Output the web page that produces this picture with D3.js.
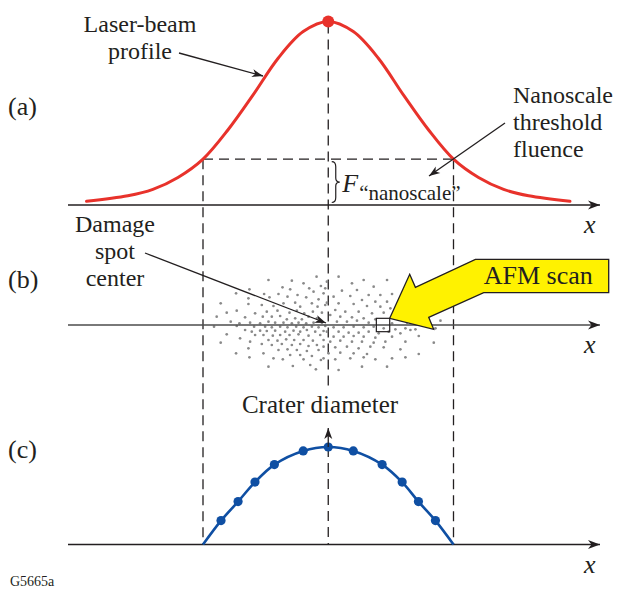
<!DOCTYPE html>
<html>
<head>
<meta charset="utf-8">
<script src="https://cdn.jsdelivr.net/npm/d3@7"></script>
<style>
  html, body { margin: 0; padding: 0; background: #fff; }
  svg { display: block; }
  text { font-family: "Liberation Serif", "DejaVu Serif", serif; fill: #231f20; }
</style>
</head>
<body>
<svg id="fig" width="626" height="592"></svg>
<script>
// ---- Data -----------------------------------------------------------
// Position along x in units of the threshold half-width (edges at -1, +1).
const profileX = [-1.93, -1.6, -1.4, -1.2, -1.0, -0.8, -0.6, -0.4, -0.2, 0,
                  0.2, 0.4, 0.6, 0.8, 1.0, 1.2, 1.4, 1.6, 1.93];
// Laser fluence relative to the peak.
const profileF = [0.02, 0.05, 0.085, 0.15, 0.25, 0.41, 0.60, 0.80, 0.945, 1,
                  0.945, 0.80, 0.60, 0.41, 0.25, 0.15, 0.085, 0.05, 0.02];
const thresholdF = 0.25;

// Crater diameter (relative) along the scan line.
const craterX = [-1, -0.856, -0.72, -0.585, -0.43, -0.2, 0, 0.2, 0.43, 0.59, 0.72, 0.856, 1];
const craterD = [0, 0.245, 0.44, 0.64, 0.82, 0.96, 1, 0.96, 0.82, 0.64, 0.44, 0.245, 0];

// Damage sites in the spot (units: threshold half-width = 375).
const spotX = [
  -179,-35,-109,-74,-137,-22,-236,-114,-57,-276,-149,-192,-92,-44,-14,-239,-176,-122,-66,-29,
  -322,-239,-199,-164,-134,-99,-84,-49,-32,-9,-304,-274,-219,-184,-152,-116,-94,-72,-46,-19,
  -334,-249,-196,-169,-144,-124,-99,-79,-59,-34,-292,-266,-234,-204,-179,-159,-134,-109,-89,-66,
  -44,-19,-342,-274,-222,-189,-169,-144,-122,-96,-74,-49,-29,-9,-249,-229,-204,-184,-159,-129,
  -104,-84,-64,-39,-14,-304,-219,-194,-166,-144,-116,-89,-59,-24,-264,-234,-179,-152,-126,-102,
  -74,-46,-14,-322,-199,-169,-139,-109,-84,-59,-34,-239,-149,-122,-94,-64,-29,-276,-194,-114,
  -84,-49,-236,-164,-136,-74,-22,-179,-106,-54,-37,
  31,-4,71,106,136,176,-9,41,86,121,156,191,16,66,101,141,176,-4,31,76,
  116,156,186,21,51,91,131,166,6,36,71,106,141,26,56,86,121,191,236,276,
  336,16,46,76,106,136,166,201,231,261,321,-4,31,61,91,121,151,181,216,246,
  16,46,76,106,141,191,271,6,36,71,101,136,171,231,316,-14,21,56,91,126,
  166,216,1,36,76,116,271,-14,21,66,106,141,191,231,31,101,176
];
const spotY = [
  135,145,133,125,113,117,107,107,110,95,93,93,90,100,95,80,83,85,83,77,
  65,63,60,57,65,67,55,65,55,60,37,43,35,40,43,37,43,35,40,37,
  25,23,25,25,27,17,20,17,25,20,10,5,7,5,10,7,7,5,7,5,
  7,7,-5,-3,-5,-5,-7,-5,-7,-5,-7,-5,-7,-3,-15,-20,-17,-18,-17,-20,
  -17,-20,-15,-20,-18,-28,-30,-30,-32,-30,-30,-28,-32,-30,-40,-50,-45,-47,-43,-45,
  -45,-47,-45,-53,-57,-60,-57,-60,-57,-63,-60,-70,-75,-73,-75,-78,-75,-85,-85,-90,
  -90,-93,-97,-100,-103,-103,-105,-125,-123,-120,-133,
  145,130,125,135,115,135,110,103,105,90,90,93,85,87,75,70,70,67,65,63,
  57,55,50,45,40,40,35,37,30,25,23,20,17,10,10,13,7,5,7,5,
  13,-7,-7,-5,-7,-5,-10,-13,-10,-13,-10,-20,-20,-23,-23,-20,-25,-20,-25,-15,
  -35,-35,-33,-35,-38,-35,-33,-50,-47,-50,-50,-53,-50,-50,-53,-65,-67,-65,-70,-65,
  -67,-73,-85,-83,-85,-87,-87,-100,-103,-100,-97,-103,-100,-97,-135,-125,-125
];

// Location of the AFM scan window (spot units).
const afmScan = { x: 164, y: 0, half: 20 };

const panelLabels = ["(a)", "(b)", "(c)"];

// ---- Scales ---------------------------------------------------------
const svg = d3.select("#fig");
const x = d3.scaleLinear().domain([-1, 1]).range([203, 453.5]);
const axisStart = x.invert(68), axisEnd = x.invert(600);

const yA = d3.scaleLinear().domain([0, 1]).range([205, 21.5]);
const yC = d3.scaleLinear().domain([0, 1]).range([544.5, 447]);
const sx = d3.scaleLinear().domain([-375, 375]).range([203, 453.5]);
const sy = d3.scaleLinear().domain([-150, 150]).range([375, 275]);
const axisBy = sy(0);

const RED = "#e8322b", BLUE = "#0f4fa3", INK = "#231f20";

// ---- Markers --------------------------------------------------------
const defs = svg.append("defs");
defs.append("marker").attr("id", "axhead")
  .attr("viewBox", "-12 -6 13 12").attr("markerWidth", 13).attr("markerHeight", 12)
  .attr("refX", 0).attr("refY", 0).attr("orient", "auto").attr("markerUnits", "userSpaceOnUse")
  .append("path").attr("d", "M0,0 L-12,-4.5 L-8.5,0 L-12,4.5 Z").attr("fill", INK);
defs.append("marker").attr("id", "head")
  .attr("viewBox", "-12 -6 13 12").attr("markerWidth", 13).attr("markerHeight", 12)
  .attr("refX", 0).attr("refY", 0).attr("orient", "auto").attr("markerUnits", "userSpaceOnUse")
  .append("path").attr("d", "M0,0 L-11,-4 L-8,0 L-11,4 Z").attr("fill", INK);

// ---- Dashed guides --------------------------------------------------
const dash = "10,6";
const guides = svg.append("g").attr("stroke", INK).attr("stroke-width", 1.3)
  .attr("stroke-dasharray", dash).attr("fill", "none");
guides.append("line").attr("x1", x(-1)).attr("x2", x(1))
  .attr("y1", yA(thresholdF)).attr("y2", yA(thresholdF));
[-1, 1].forEach(v => guides.append("line").attr("x1", x(v)).attr("x2", x(v))
  .attr("y1", yA(thresholdF)).attr("y2", yC(0)));
// centre line: interrupted by the "Crater diameter" heading
guides.append("line").attr("x1", x(0)).attr("x2", x(0))
  .attr("y1", yA(1) + 2).attr("y2", 388);
guides.append("line").attr("x1", x(0)).attr("x2", x(0))
  .attr("y1", yC(1)).attr("y2", yC(0));

// ---- Axes -----------------------------------------------------------
function axisLine(y, color) {
  svg.append("line").attr("x1", x(axisStart)).attr("x2", x(axisEnd))
    .attr("y1", y).attr("y2", y).attr("stroke", color).attr("stroke-width", 1.6)
    .attr("marker-end", "url(#axhead)");
}
axisLine(yA(0), INK);

// ---- (b) damage spot ------------------------------------------------
svg.append("g").selectAll("circle").data(spotX.map((v, i) => [v, spotY[i]]))
  .join("circle").attr("cx", d => sx(d[0])).attr("cy", d => sy(d[1]))
  .attr("r", 1.35).attr("fill", "#8a8a8a");
axisLine(axisBy, "#4d4d4d");

axisLine(yC(0), INK);

// ---- (a) laser-beam profile ----------------------------------------
const profile = profileX.map((v, i) => [v, profileF[i]]);
svg.append("path").datum(profile)
  .attr("d", d3.line().x(d => x(d[0])).y(d => yA(d[1])).curve(d3.curveCatmullRom.alpha(0.5)))
  .attr("fill", "none").attr("stroke", RED).attr("stroke-width", 3).attr("stroke-linecap", "round");
svg.append("circle").attr("cx", x(0)).attr("cy", yA(1)).attr("r", 6).attr("fill", RED);

// brace for the threshold fluence
{
  const bx = x(0) + 3.5, top = yA(thresholdF) + 2.5, bot = yA(0) - 2.5, mid = (top + bot) / 2;
  svg.append("path")
    .attr("d", `M${bx},${top} Q${bx + 4},${top} ${bx + 4},${top + 5} L${bx + 4},${mid - 4}
                Q${bx + 4},${mid} ${bx + 8},${mid} Q${bx + 4},${mid} ${bx + 4},${mid + 4}
                L${bx + 4},${bot - 5} Q${bx + 4},${bot} ${bx},${bot}`)
    .attr("fill", "none").attr("stroke", INK).attr("stroke-width", 1.2);
}
const fl = svg.append("text").attr("x", x(0) + 14).attr("y", 192);
fl.append("tspan").attr("font-style", "italic").attr("font-size", 26).text("F");
fl.append("tspan").attr("font-size", 21).attr("dy", 8).attr("dx", 1).text("\u201Cnanoscale\u201D");

// ---- (c) crater diameter -------------------------------------------
const crater = craterX.map((v, i) => [v, craterD[i]]);
svg.append("path").datum(crater)
  .attr("d", d3.line().x(d => x(d[0])).y(d => yC(d[1])).curve(d3.curveCatmullRom.alpha(0.5)))
  .attr("fill", "none").attr("stroke", BLUE).attr("stroke-width", 2.6);
svg.append("g").selectAll("circle").data(crater.slice(1, -1)).join("circle")
  .attr("cx", d => x(d[0])).attr("cy", d => yC(d[1])).attr("r", 4.6).attr("fill", BLUE);
svg.append("line").attr("x1", x(0)).attr("x2", x(0)).attr("y1", yC(1)).attr("y2", yC(1) - 19)
  .attr("stroke", INK).attr("stroke-width", 1.3).attr("marker-end", "url(#head)");

// ---- AFM scan callout ----------------------------------------------
{
  const cx = sx(afmScan.x), cy = sy(afmScan.y);
  const h = sx(afmScan.half) - sx(0);
  const tx = cx + h, ty = cy - h;  // arrow tip at the window corner
  const pts = [[0, 0], [20, -44], [25.7, -31], [85.7, -59], [219, -59], [219, -25.6],
               [94, -25.6], [39, -1], [44, 11]].map(p => [tx + p[0], ty + p[1]]);
  svg.append("polygon").attr("points", pts.map(p => p.join(",")).join(" "))
    .attr("fill", "#fff200").attr("stroke", INK).attr("stroke-width", 1.3)
    .attr("stroke-linejoin", "miter");
  svg.append("rect").attr("x", cx - h).attr("y", cy - h).attr("width", 2 * h).attr("height", 2 * h)
    .attr("fill", "none").attr("stroke", INK).attr("stroke-width", 1.2);
  svg.append("text").attr("x", tx + 94).attr("y", ty - 34).attr("font-size", 26).text("AFM scan");
}

// ---- Annotations ----------------------------------------------------
function lines(txt, xx, y0, step, anchor) {
  const t = svg.append("text").attr("font-size", 24).attr("text-anchor", anchor);
  txt.forEach((s, i) => t.append("tspan").attr("x", xx).attr("y", y0 + i * step).text(s));
}
lines(["Laser-beam", "profile"], 140, 32, 27, "middle");
lines(["Nanoscale", "threshold", "fluence"], 513, 103, 27, "start");
lines(["Damage", "spot", "center"], 115, 232, 27, "middle");
svg.append("text").attr("x", 320).attr("y", 413).attr("font-size", 25)
  .attr("text-anchor", "middle").text("Crater diameter");

const ptr = svg.append("g").attr("stroke", INK).attr("stroke-width", 1.3);
ptr.append("line").attr("x1", 179).attr("y1", 53).attr("x2", 263).attr("y2", 76).attr("marker-end", "url(#head)");
ptr.append("line").attr("x1", 505).attr("y1", 123).attr("x2", 429).attr("y2", 176).attr("marker-end", "url(#head)");
ptr.append("line").attr("x1", 145).attr("y1", 253).attr("x2", 326).attr("y2", 323).attr("marker-end", "url(#head)");

[yA(0), axisBy, yC(0)].forEach((ay, i) => {
  svg.append("text").attr("x", 8).attr("y", [115, 288, 458][i]).attr("font-size", 26).text(panelLabels[i]);
  svg.append("text").attr("x", 584).attr("y", ay + 28).attr("font-size", 26)
    .attr("font-style", "italic").text("x");
});
svg.append("text").attr("x", 10).attr("y", 586).attr("font-size", 14).text("G5665a");
</script>
</body>
</html>
